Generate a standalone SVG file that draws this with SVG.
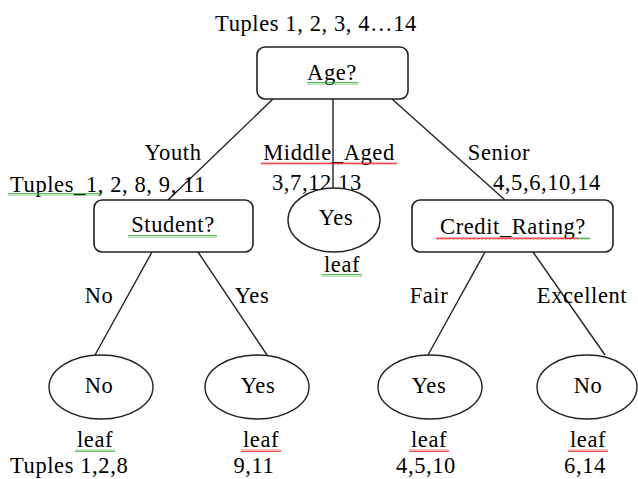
<svg xmlns="http://www.w3.org/2000/svg" width="638" height="479" viewBox="0 0 638 479">
<style>
text{font-size:22.5px;letter-spacing:0.6px;fill:#000}
.m{text-anchor:middle}
.box{fill:#fff;stroke:#222;stroke-width:1.6}
.ell{fill:#fff;stroke:#222;stroke-width:1.4}
.ln{stroke:#222;stroke-width:1.4;fill:none}
</style>
<defs>
<pattern id="sqG" width="4" height="3" patternUnits="userSpaceOnUse"><polyline points="0,2.5 1,0.5 2,2.5 3,0.5 4,2.5" fill="none" stroke="#3a3" stroke-width="0.8"/></pattern>
<pattern id="sqR" width="4" height="3" patternUnits="userSpaceOnUse"><polyline points="0,2.5 1,0.5 2,2.5 3,0.5 4,2.5" fill="none" stroke="#e22" stroke-width="0.8"/></pattern>
</defs>
<rect width="638" height="479" fill="#fff"/>
<g font-family="'Liberation Serif', 'Times New Roman', 'DejaVu Serif', serif">
<g id="connectors">
<line class="ln" x1="273" y1="99" x2="168" y2="200"/>
<line class="ln" x1="333" y1="99" x2="333" y2="188"/>
<line class="ln" x1="392" y1="99" x2="505" y2="200"/>
<line class="ln" x1="152" y1="252" x2="95" y2="355"/>
<line class="ln" x1="198" y1="252" x2="267" y2="355"/>
<line class="ln" x1="485" y1="252" x2="428" y2="355"/>
<line class="ln" x1="533" y1="252" x2="605" y2="355"/>
</g>
<g id="labels">
<text class="m" x="173" y="160">Youth</text>
<text class="m" x="329" y="160">Middle_Aged</text>
<rect x="261" y="162" width="136" height="3" fill="url(#sqR)"/>
<text class="m" x="499" y="160">Senior</text>
<text x="10" y="192">Tuples_1, 2, 8, 9, 11</text>
<rect x="8" y="193" width="92" height="3" fill="url(#sqG)"/>
<text x="272" y="190">3,7,12,13</text>
<text x="493" y="190">4,5,6,10,14</text>
<text class="m" x="99" y="303">No</text>
<text class="m" x="252" y="303">Yes</text>
<text class="m" x="429" y="303">Fair</text>
<text class="m" x="582" y="303">Excellent</text>
</g>
<g id="root">
<text class="m" x="316" y="31">Tuples 1, 2, 3, 4…14</text>
<rect class="box" x="257" y="47" width="151" height="52" rx="8"/>
<text class="m" x="332" y="80">Age?</text>
<rect x="307" y="82" width="51" height="3" fill="url(#sqG)"/>
</g>
<g id="student">
<rect class="box" x="94" y="200" width="159" height="52" rx="8"/>
<text class="m" x="173" y="232">Student?</text>
<rect x="128" y="235" width="89" height="3" fill="url(#sqG)"/>
</g>
<g id="middle-yes">
<ellipse class="ell" cx="334" cy="220" rx="46" ry="32"/>
<text class="m" x="336" y="225">Yes</text>
<text class="m" x="342" y="272">leaf</text>
<rect x="322" y="274" width="40" height="3" fill="url(#sqG)"/>
</g>
<g id="credit">
<rect class="box" x="412" y="200" width="201" height="52" rx="8"/>
<text class="m" x="513" y="234">Credit_Rating?</text>
<rect x="436" y="237" width="142" height="3" fill="url(#sqR)"/>
<rect x="578" y="237" width="12" height="3" fill="url(#sqG)"/>
</g>
<g id="leaf-no1">
<ellipse class="ell" cx="101" cy="387" rx="52" ry="32"/>
<text class="m" x="99" y="393">No</text>
<text class="m" x="95" y="447">leaf</text>
<rect x="75" y="449" width="40" height="3" fill="url(#sqG)"/>
<text x="10" y="473">Tuples 1,2,8</text>
</g>
<g id="leaf-yes1">
<ellipse class="ell" cx="257" cy="387" rx="52" ry="32"/>
<text class="m" x="258" y="393">Yes</text>
<text class="m" x="261" y="447">leaf</text>
<rect x="241" y="449" width="40" height="3" fill="url(#sqR)"/>
<text class="m" x="254" y="473">9,11</text>
</g>
<g id="leaf-yes2">
<ellipse class="ell" cx="430" cy="387" rx="52" ry="32"/>
<text class="m" x="429" y="393">Yes</text>
<text class="m" x="429" y="447">leaf</text>
<rect x="409" y="449" width="40" height="3" fill="url(#sqR)"/>
<text class="m" x="426" y="473">4,5,10</text>
</g>
<g id="leaf-no2">
<ellipse class="ell" cx="587" cy="387" rx="50" ry="32"/>
<text class="m" x="588" y="393">No</text>
<text class="m" x="588" y="447">leaf</text>
<rect x="568" y="449" width="40" height="3" fill="url(#sqR)"/>
<text class="m" x="585" y="473">6,14</text>
</g>
</g>
</svg>
